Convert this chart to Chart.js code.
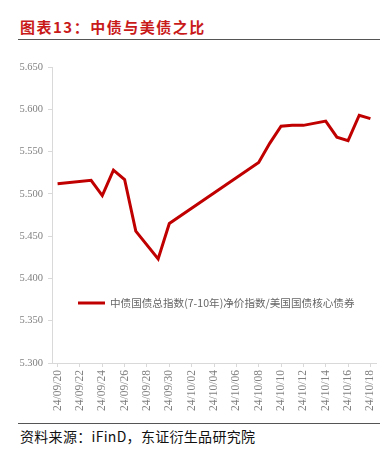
<!DOCTYPE html>
<html>
<head>
<meta charset="utf-8">
<script src="https://cdn.jsdelivr.net/npm/chart.js@4"></script>
<style>
  body { margin: 0; background: #fff; }
  #page { position: relative; width: 391px; height: 455px; overflow: hidden; }
  #titre {
    position: absolute; left: 20px; top: 16px;
    font: bold 15px "Noto Sans CJK SC", sans-serif; letter-spacing: 1.5px;
    color: #c91a1a;
  }
  .trait { position: absolute; left: 18px; width: 362px; height: 0; border-top: 1.5px solid #555; }
  #source {
    position: absolute; left: 20px; top: 426px;
    font: 14px "Noto Sans CJK SC", sans-serif; letter-spacing: 0.3px; color: #111;
  }
  #zone { position: absolute; left: 0; top: 45px; width: 391px; height: 377px; }
</style>
</head>
<body>
<div id="page">
  <div id="titre">图表13：中债与美债之比</div>
  <div class="trait" style="top:39px"></div>
  <div id="zone"><canvas id="graphique"></canvas></div>
  <div class="trait" style="top:423px"></div>
  <div id="source">资料来源：iFinD，东证衍生品研究院</div>
</div>
<script>
// dates calendaires (les jours sans cotation sont null)
const dates = [
  "24/09/20", "24/09/21", "24/09/22", "24/09/23", "24/09/24", "24/09/25", "24/09/26",
  "24/09/27", "24/09/28", "24/09/29", "24/09/30", "24/10/01", "24/10/02", "24/10/03",
  "24/10/04", "24/10/05", "24/10/06", "24/10/07", "24/10/08", "24/10/09", "24/10/10",
  "24/10/11", "24/10/12", "24/10/13", "24/10/14", "24/10/15", "24/10/16", "24/10/17",
  "24/10/18"
];
const ratio = [
  5.512, null, null, 5.516, 5.498, 5.528, 5.517,
  5.456, null, 5.423, 5.465, null, null, null,
  null, null, null, null, 5.537, 5.560, 5.580,
  5.581, 5.581, null, 5.586, 5.567, 5.563, 5.593,
  5.589
];
const nomSerie = "中债国债总指数(7-10年)净价指数/美国国债核心债券";
const yMin = 5.30, yMax = 5.65, yPas = 0.05;

const gris = "#808080";
const rouge = "#c00000";

// legende dessinee dans la zone du graphique, en bas a gauche
const legendeInterne = {
  id: "legendeInterne",
  afterDraw(chart) {
    const ctx = chart.ctx;
    const ds = chart.data.datasets[0];
    const x = 78, y = 258;
    ctx.save();
    ctx.strokeStyle = ds.borderColor;
    ctx.lineWidth = 3;
    ctx.beginPath();
    ctx.moveTo(x, y);
    ctx.lineTo(x + 27, y);
    ctx.stroke();
    ctx.fillStyle = "#666";
    ctx.font = '10.6px "Noto Sans CJK SC", sans-serif';
    ctx.textBaseline = "middle";
    ctx.fillText(ds.label, x + 32, y);
    ctx.restore();
  }
};

new Chart(document.querySelector("#graphique"), {
  type: "line",
  data: {
    labels: dates,
    datasets: [{
      label: nomSerie,
      data: ratio,
      borderColor: rouge,
      borderWidth: 3,
      pointRadius: 0,
      tension: 0,
      spanGaps: true
    }]
  },
  options: {
    responsive: true,
    maintainAspectRatio: false,
    animation: false,
    layout: { padding: { top: 22, right: 15, left: 0, bottom: 0 } },
    plugins: { legend: { display: false }, tooltip: { enabled: false } },
    scales: {
      x: {
        offset: true,
        afterFit(scale) { scale.height = 59; },
        border: { color: "#d9d9d9" },
        grid: {
          drawOnChartArea: false,
          tickLength: 4,
          color: (c) => (c.index % 2 === 0 ? "#d9d9d9" : "rgba(0,0,0,0)")
        },
        ticks: {
          autoSkip: false,
          maxRotation: 90,
          minRotation: 90,
          padding: 3,
          color: gris,
          font: { family: "Liberation Serif", size: 11.5 },
          callback(v, i) { return i % 2 === 0 ? this.getLabelForValue(v) : ""; }
        }
      },
      y: {
        min: yMin,
        max: yMax,
        afterFit(scale) { scale.width = 52; },
        border: { color: "#d9d9d9" },
        grid: { drawOnChartArea: false, tickLength: 4, color: "#d9d9d9" },
        ticks: {
          stepSize: yPas,
          padding: 5,
          color: gris,
          font: { family: "Liberation Serif", size: 10.5 },
          callback: (v) => v.toFixed(3)
        }
      }
    }
  },
  plugins: [legendeInterne]
});
</script>
</body>
</html>
